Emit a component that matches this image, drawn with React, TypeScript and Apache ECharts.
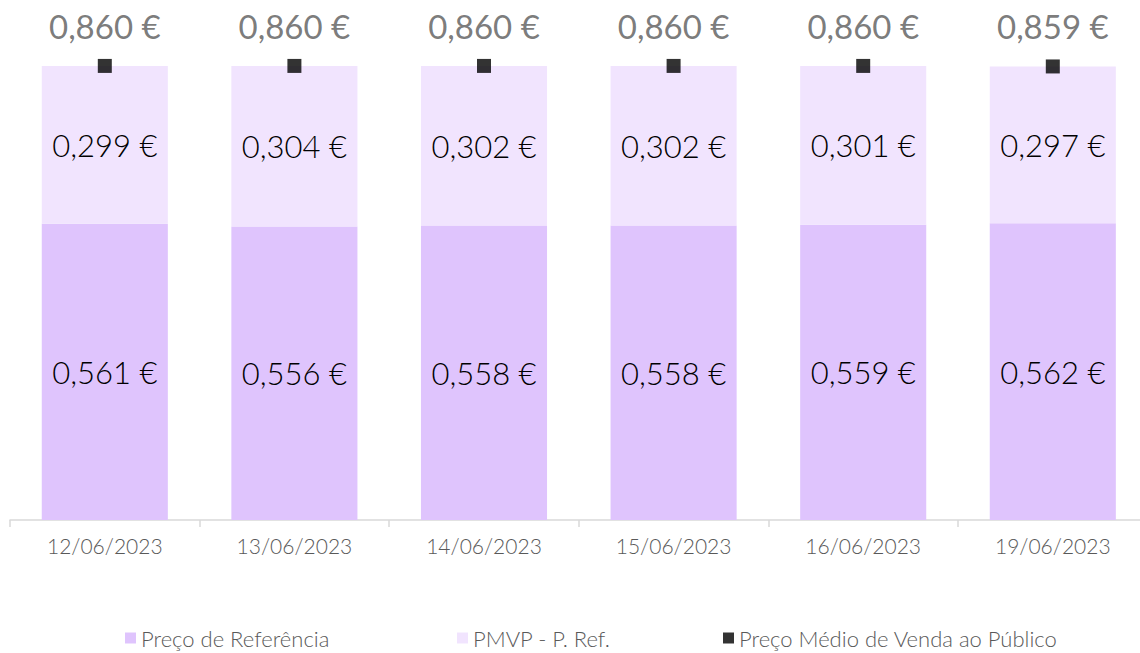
import React, { useEffect, useRef } from "react";
import * as echarts from "echarts";

const categories = ["12/06/2023", "13/06/2023", "14/06/2023", "15/06/2023", "16/06/2023", "19/06/2023"];
const precoReferencia = [0.561, 0.556, 0.558, 0.558, 0.559, 0.562];
const pmvpMinusRef = [0.299, 0.304, 0.302, 0.302, 0.301, 0.297];
const precoMedio = [0.860, 0.860, 0.860, 0.860, 0.860, 0.859];

const seriesNames = ["Preço de Referência", "PMVP - P. Ref.", "Preço Médio de Venda ao Público"];
const legendLefts = [120, 452, 718];

const fmt = (v: number) => v.toFixed(3).replace(".", ",") + " €";
const FONT = "Lato";

export default function App() {
  const ref = useRef<HTMLDivElement>(null);
  useEffect(() => {
    if (!ref.current) return;
    const chart = echarts.init(ref.current, undefined, { renderer: "svg" });
    chart.setOption({
      animation: false,
      textStyle: { fontFamily: FONT },
      grid: { left: 10, width: 1137.6, top: 44.8, height: 475.2, containLabel: false },
      legend: seriesNames.map((n, i) => ({
        top: 622,
        left: legendLefts[i],
        itemWidth: 11,
        itemHeight: 11,
        icon: "rect",
        textStyle: { fontFamily: FONT, fontSize: 22, color: "#595959", fontWeight: 300 },
        data: [n],
      })),
      xAxis: {
        type: "category",
        data: categories,
        axisLine: { lineStyle: { color: "#D9D9D9", width: 1.5 } },
        axisTick: { show: true, length: 7, lineStyle: { color: "#D9D9D9", width: 1.5 } },
        axisLabel: { fontFamily: FONT, fontSize: 21, color: "#595959", margin: 15, fontWeight: 300 },
      },
      yAxis: {
        type: "value",
        min: 0,
        max: 0.9,
        show: false,
        splitLine: { show: false },
      },
      series: [
        {
          name: seriesNames[0],
          type: "bar",
          stack: "total",
          data: precoReferencia,
          barCategoryGap: "33.5%",
          itemStyle: { color: "#DFC4FD" },
          label: {
            show: true,
            position: "inside",
            formatter: (p: any) => fmt(p.value),
            fontFamily: FONT,
            fontSize: 31,
            color: "#000000",
            fontWeight: 300,
          },
        },
        {
          name: seriesNames[1],
          type: "bar",
          stack: "total",
          data: pmvpMinusRef,
          itemStyle: { color: "#F1E4FE" },
          label: {
            show: true,
            position: "inside",
            formatter: (p: any) => fmt(p.value),
            fontFamily: FONT,
            fontSize: 31,
            color: "#000000",
            fontWeight: 300,
          },
        },
        {
          name: seriesNames[2],
          type: "scatter",
          data: precoMedio,
          symbol: "rect",
          symbolSize: 14,
          z: 5,
          itemStyle: { color: "#000000" },
          label: {
            show: true,
            position: "inside",
            offset: [0, -40],
            formatter: (p: any) => fmt(p.value),
            fontFamily: FONT,
            fontSize: 33,
            color: "#595959",
          },
        },
      ],
    });
    return () => chart.dispose();
  }, []);
  return (
    <div style={{ position: "fixed", left: 0, top: 0, width: 1140, height: 653, overflow: "hidden", background: "#ffffff" }}>
      <div ref={ref} style={{ width: 1160, height: 653 }} />
    </div>
  );
}
